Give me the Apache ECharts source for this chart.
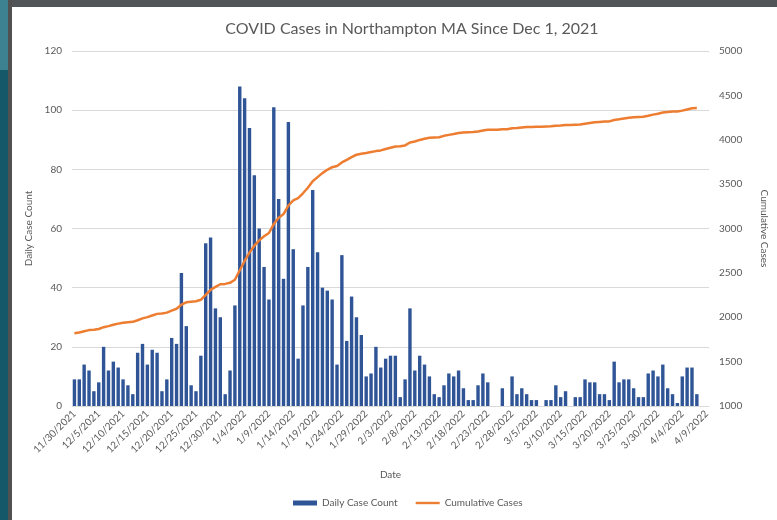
<!DOCTYPE html>
<html><head><meta charset="utf-8">
<script src="https://cdn.jsdelivr.net/npm/echarts@6/dist/echarts.min.js"></script>
<style>html,body{margin:0;padding:0;background:#fff}#c{width:777px;height:520px}</style>
</head><body><div id="c"></div>
<script>
// ---- data ----
const firstDay = [2021, 11, 30];   // Y, M, D of first category
const dayCount = 131;              // 11/30/2021 .. 4/9/2022
const daily = [
  9,9,14,12,5,8,20,12,15,13,9,7,4,18,21,14,19,18,5,9,23,21,45,27,7,5,17,55,57,33,30,4,12,34,
  108,104,94,78,60,47,36,101,70,43,96,53,16,34,47,73,52,40,39,36,14,51,22,37,30,24,10,11,20,13,16,17,17,3,
  9,33,12,17,14,10,4,3,7,11,10,12,6,2,2,7,11,8,0,0,6,0,10,4,6,4,2,2,0,2,2,7,3,5,
  0,3,3,9,8,8,4,4,2,15,8,9,9,6,3,3,11,12,10,14,6,4,1,10,13,13,4
];
const cumulative = [
  1820,1829,1843,1855,1860,1868,1888,1900,1915,1928,1937,1944,1948,1966,1987,2001,2020,2038,2043,2052,
  2075,2096,2141,2168,2175,2180,2197,2252,2309,2342,2372,2376,2388,2422,
  2530,2634,2728,2806,2866,2913,2949,3050,3120,3163,3259,3317,3343,3397,3459,3532,3579,3624,3661,3691,
  3705,3744,3774,3805,3831,3842,3850,3861,3872,3880,3895,3910,3924,3927,
  3936,3969,3981,3998,4012,4022,4026,4029,4044,4055,4065,4077,4083,4085,4087,4094,4105,4113,4113,4113,
  4119,4119,4129,4133,4139,4143,4145,4147,4147,4149,4151,4158,4161,4166,4166,4169,4172,4181,4189,4197,
  4201,4205,4207,4222,4230,4239,4248,4254,4257,4260,4271,4283,4293,4307,4313,4317,4318,4328,4341,4354,4358
];
const leftAxis = {min: 0, max: 120, interval: 20};
const rightAxis = {min: 1000, max: 5000, interval: 500};
const titleText = 'COVID Cases in Northampton MA Since Dec 1, 2021';
const seriesNames = ['Daily Case Count', 'Cumulative Cases'];

const categories = [];
for (let i = 0; i < dayCount; i++) {
  const d = new Date(firstDay[0], firstDay[1] - 1, firstDay[2] + i);
  categories.push((d.getMonth() + 1) + '/' + d.getDate() + '/' + d.getFullYear());
}

const FONT = 'Lato';
const TXT = '#595959';
const chart = echarts.init(document.getElementById('c'), null, {renderer: 'canvas'});
chart.setOption({
  backgroundColor: '#ffffff',
  animation: false,
  textStyle: {fontFamily: FONT},
  graphic: [
    {type: 'rect', shape: {x: 0, y: 0, width: 777, height: 7}, style: {fill: '#515558'}, silent: true},
    {type: 'rect', shape: {x: 0, y: 0, width: 8, height: 70}, style: {fill: '#3d8290'}, silent: true},
    {type: 'rect', shape: {x: 0, y: 70, width: 8, height: 450}, style: {fill: '#14586a'}, silent: true},
    {type: 'rect', shape: {x: 8, y: 0, width: 4, height: 520}, style: {fill: '#515151'}, silent: true}
  ],
  title: {
    text: titleText, left: 407, top: 16, textAlign: 'center',
    textStyle: {fontFamily: FONT, fontSize: 16, fontWeight: 'normal', color: TXT}
  },
  legend: {
    bottom: 7, left: 288, itemGap: 18, itemWidth: 24, itemHeight: 5,
    textStyle: {fontFamily: FONT, fontSize: 10, color: TXT},
    data: [
      {name: seriesNames[0], icon: 'rect'},
      {name: seriesNames[1], icon: 'path://M0,0 L24,0 L24,2.4 L0,2.4 Z'}
    ]
  },
  grid: {left: 72, right: 54, top: 51, bottom: 114, containLabel: false},
  xAxis: {
    type: 'category', data: categories, boundaryGap: true,
    name: 'Date', nameLocation: 'middle', nameGap: 64,
    nameTextStyle: {fontFamily: FONT, fontSize: 10, color: TXT},
    axisLine: {lineStyle: {color: '#d9d9d9'}},
    axisTick: {show: false},
    axisLabel: {interval: 4, rotate: 45, fontSize: 10, color: TXT, margin: 6, fontFamily: FONT}
  },
  yAxis: [
    {
      type: 'value', min: leftAxis.min, max: leftAxis.max, interval: leftAxis.interval,
      name: 'Daily Case Count', nameLocation: 'middle', nameGap: 25, nameRotate: 90,
      nameTextStyle: {fontFamily: FONT, fontSize: 10, color: TXT},
      axisLine: {show: false}, axisTick: {show: false},
      axisLabel: {fontSize: 10, color: TXT, margin: 10, fontFamily: FONT},
      splitLine: {lineStyle: {color: '#d9d9d9', width: 1}}
    },
    {
      type: 'value', min: rightAxis.min, max: rightAxis.max, interval: rightAxis.interval,
      name: 'Cumulative Cases', nameLocation: 'middle', nameGap: 50, nameRotate: -90,
      nameTextStyle: {fontFamily: FONT, fontSize: 10, color: TXT},
      axisLine: {show: false}, axisTick: {show: false},
      axisLabel: {fontSize: 10, color: TXT, margin: 10, fontFamily: FONT, formatter: v => String(v)},
      splitLine: {show: false}
    }
  ],
  series: [
    {
      name: seriesNames[0], type: 'bar', yAxisIndex: 0, data: daily,
      barWidth: '70%', itemStyle: {color: '#2f5597'}
    },
    {
      name: seriesNames[1], type: 'line', yAxisIndex: 1, data: cumulative,
      showSymbol: false, symbol: 'none', smooth: false,
      lineStyle: {color: '#ed7d31', width: 2.5}, itemStyle: {color: '#ed7d31'}, z: 3
    }
  ]
});
</script>
</body></html>
